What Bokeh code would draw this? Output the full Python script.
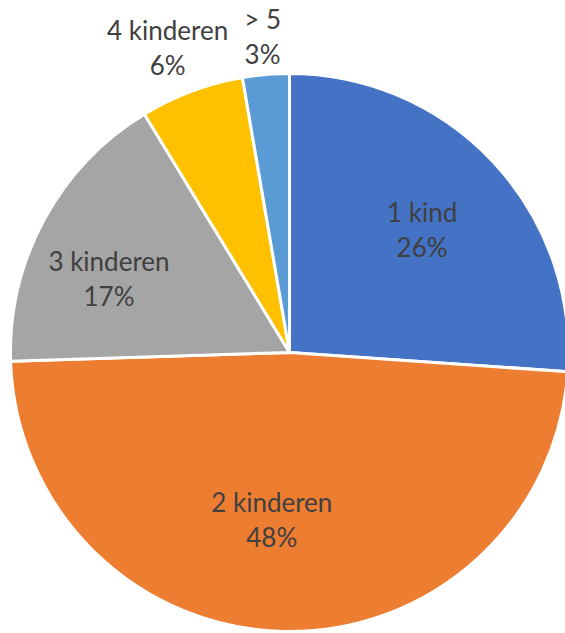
import math
from bokeh.plotting import figure
from bokeh.models import Range1d, ColumnDataSource
from bokeh.embed import file_html
from bokeh.resources import INLINE
from bokeh.core.properties import value

categories = ["1 kind", "2 kinderen", "3 kinderen", "4 kinderen", "> 5"]
shares = [26.1, 48.4, 16.8, 6.0, 2.7]
pct_labels = ["26%", "48%", "17%", "6%", "3%"]
colors = ["#4472C4", "#ED7D31", "#A5A5A5", "#FFC000", "#5B9BD5"]

# layout
W, H = 565, 633
cx, cy, R = 289, 281, 279
label_r = [0.65, 0.60, 0.70, 1.18, 1.14]
label_rot = [0.0, 5.0, -6.0, -1.2, 0.0]  # degrees nudges (clockwise)

total = sum(shares)
starts, ends, lx, ly = [], [], [], []
c = 0.0
for i, s in enumerate(shares):
    f0 = c / total
    f1 = (c + s) / total
    c += s
    starts.append(math.pi / 2 - 2 * math.pi * f1)
    ends.append(math.pi / 2 - 2 * math.pi * f0)
    mid = (f0 + f1) / 2 * 360 + label_rot[i]
    a = math.radians(mid)
    lx.append(cx + R * label_r[i] * math.sin(a))
    ly.append(cy + R * label_r[i] * math.cos(a))

src = ColumnDataSource(dict(start=starts, end=ends, color=colors,
                            name=categories, pct=pct_labels, lx=lx, ly=ly))

p = figure(width=W, height=H, output_backend="svg", toolbar_location=None,
           x_range=Range1d(0, W), y_range=Range1d(0, H), min_border=0)
p.axis.visible = False
p.grid.visible = False
p.outline_line_color = None

p.wedge(x=cx, y=cy, radius=R, start_angle="start", end_angle="end",
        fill_color="color", line_color="white", line_width=3, source=src)

p.text(x="lx", y="ly", text="name", source=src, text_align="center",
       text_baseline="middle", y_offset=-17, text_font=value("Lato"),
       text_font_size="26px", text_color="#404040")
p.text(x="lx", y="ly", text="pct", source=src, text_align="center",
       text_baseline="middle", y_offset=18, text_font=value("Lato"),
       text_font_size="26px", text_color="#404040")

open("out.html", "w").write(file_html(p, INLINE))
